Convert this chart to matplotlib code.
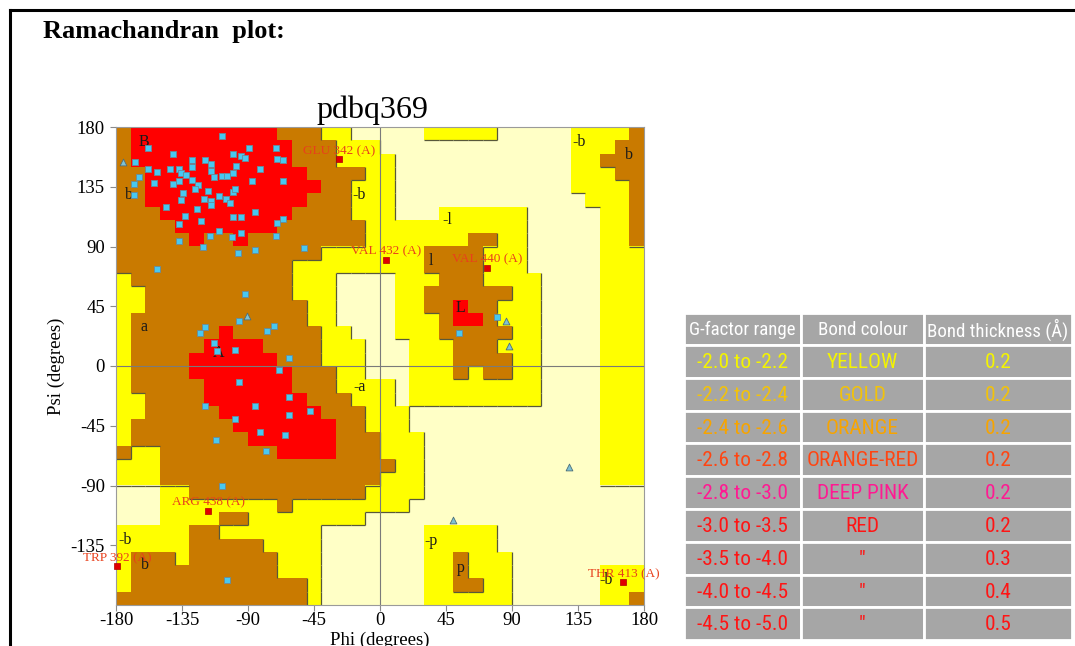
import re

import matplotlib
matplotlib.use("Agg")
import matplotlib.pyplot as plt
import numpy as np
from matplotlib import font_manager
from matplotlib.collections import LineCollection
from matplotlib.colors import ListedColormap
from matplotlib.font_manager import FontProperties
from matplotlib.lines import Line2D
from matplotlib.patches import Rectangle

plt.rcParams['axes.unicode_minus'] = False

# Ramachandran region map, 10 degree cells, run-length coded.
# rows go psi 180 -> -180, columns phi -180 -> 180
# R core, B allowed, Y generous, L disallowed
region_rows = [
    "B1R10B3Y2L5Y5L5Y4B1",
    "B1R11B3Y3L13Y3B2",
    "B1R11B3Y4L12Y2B3",
    "B2R11B4Y2L12Y3B2",
    "B2R12B2Y3L12Y4B1",
    "B2R11B3Y3L13Y3B1",
    "B3R9B4Y3L3Y6L5Y2B1",
    "B4R7B6Y11L5Y2B1",
    "B5R1B2R1B8Y7B2Y2L5Y2B1",
    "B14Y7B4Y3L5Y3",
    "B12Y9B4Y3L5Y3",
    "Y1B11Y3L4Y3B3Y4L4Y3",
    "Y2B10Y3L4Y2B6Y2L4Y3",
    "Y2B11Y2L4Y2B2R1B2Y3L4Y3",
    "Y1B12Y2L4Y3B1R2B1Y3L4Y3",
    "Y1B6R1B6Y2L3Y3B5Y2L4Y3",
    "Y1B5R4B4Y3L3Y3B3Y3L4Y3",
    "Y1B4R6B3Y3L3Y3B4Y2L4Y3",
    "Y1B4R7B3Y2L3Y3B1Y1B2Y2L4Y3",
    "Y1B5R6B3Y4L1Y9L4Y3",
    "Y2B4R7B3Y3L1Y9L4Y3",
    "Y2B5R7B3Y3L13Y3",
    "Y1B7R7B2Y3L13Y3",
    "Y1B8R6B3Y3L12Y3",
    "B1Y2B8R4B3Y3L12Y3",
    "Y3B16Y2L12Y3",
    "Y3B15Y3L12Y3",
    "L3Y2B12Y4L15",
    "L3Y8B1Y8L16",
    "L3Y4B2Y8L19",
    "Y5B2Y7L7Y5L10",
    "Y5B5Y4L7Y5L10",
    "Y1B3Y1B6Y3L7Y2B1Y3L9",
    "Y1B10Y3L7Y2B1Y3L6Y3",
    "Y1B12Y1L7Y2B2Y2L6Y3",
    "B13Y1L7Y6L6Y2B1",
]

# non-glycine residues (squares)
res_phi = [-108, -158, -141, -128, -119, -100, -95, -92, -89, -71, -70, -66,
           -158, -152, -143, -137, -128, -136, -132, -115, -115, -108, -104, -100,
           -98, -82, -154, -141, -137, -128, -124, -113, -66, -134, -126, -117,
           -110, -105, -100, -99, -102, -87, -146, -136, -125, -120, -115, -115,
           -133, -122, -100, -95, -85, -70, -66, -137, -110, -95, -101, -116,
           -121, -137, -97, -85, -71, -52, -152, -92, -96, -123, -119, -77,
           -72, -113, -111, -99, -62, -168, -168, -164, -167,
           -96, -69, -119, -85, -62, -99, -62, -48, -82, -65, -112, -78, -108, -104,
           80, 54]
res_psi = [173, 164, 160, 155, 155, 160, 158, 157, 164, 164, 156, 155,
           148, 146, 148, 148, 150, 145, 144, 152, 147, 143, 143, 145,
           151, 148, 138, 137, 139, 140, 136, 142, 139, 130, 133, 132,
           128, 126, 131, 133, 123, 139, 120, 125, 118, 126, 124, 121,
           113, 109, 112, 112, 116, 108, 111, 107, 102, 100, 97, 98,
           90, 94, 85, 87, 98, 89, 73, 54, 34, 25, 29, 26,
           30, 17, 11, 12, 6, 137, 129, 142, 154,
           -12, -3, -30, -30, -23, -40, -37, -34, -50, -52, -56, -64, -90, -161,
           37, 25]

# glycines (triangles)
gly_phi = [-175, -91, 86, 88, 50, 129]
gly_psi = [154, 38, 34, 15, -116, -76]

# residues in disallowed / generous regions
out_names = ["GLU 342 (A)", "VAL 432 (A)", "VAL 440 (A)", "ARG 438 (A)",
             "TRP 392 (A)", "THR 413 (A)"]
out_phi = [-28, 4, 73, -117, -179, 166]
out_psi = [156, 80, 74, -109, -151, -163]

# region letters
region_labels = ["B", "b", "a", "A", "-b", "-l", "l", "L", "-b", "b",
                 "-a", "-b", "b", "-p", "p", "-b"]
region_label_phi = [-161, -171, -161, -110, -14, 46, 35, 55, 136, 170,
                    -14, -174, -160, 35, 55, 154]
region_label_psi = [169, 129, 29, 10, 129, 110, 79, 44, 169, 159,
                    -16, -131, -150, -132, -152, -161]

# G-factor table
gfactor_ranges = ["-2.0 to -2.2", "-2.2 to -2.4", "-2.4 to -2.6", "-2.6 to -2.8",
                  "-2.8 to -3.0", "-3.0 to -3.5", "-3.5 to -4.0", "-4.0 to -4.5",
                  "-4.5 to -5.0"]
bond_colours = ["YELLOW", "GOLD", "ORANGE", "ORANGE-RED", "DEEP PINK", "RED",
                '"', '"', '"']
bond_thickness = ["0.2", "0.2", "0.2", "0.2", "0.2", "0.2", "0.3", "0.4", "0.5"]
row_text_colours = ["#f4f400", "#f2c20a", "#f7a400", "#ff4512", "#ff1a92",
                    "#ff1515", "#ff1515", "#ff1515", "#ff1515"]


def decode(rle):
    return "".join(ch * int(n) for ch, n in re.findall(r"([RBYL])(\d+)", rle))


def find_narrow_font():
    # look for any condensed / narrow sans face, fall back to DejaVu Sans
    prefs = ["Liberation Sans Narrow", "Roboto Condensed", "Open Sans Condensed",
             "Noto Sans", "DejaVu Sans", "Inter", "Lato"]
    found = []
    for f in font_manager.fontManager.ttflist:
        nm = f.name
        if any(k in nm for k in ("Mono", "Serif", "CJK", "Display")):
            continue
        st = str(f.stretch).lower()
        narrowish = ("narrow" in nm.lower() or "condensed" in nm.lower()
                     or "condensed" in st or "condensed" in f.fname.lower()
                     or "narrow" in f.fname.lower())
        if not narrowish or f.style != "normal":
            continue
        w = f.weight if isinstance(f.weight, int) else 400
        if w > 500 or "bold" in f.fname.lower() or "extra" in f.fname.lower():
            continue
        rank = next((i for i, p in enumerate(prefs) if nm.startswith(p)), len(prefs))
        found.append((rank, f.fname))
    if found:
        found.sort()
        return FontProperties(fname=found[0][1])
    return FontProperties(family="DejaVu Sans")


level_of = {"L": 0, "Y": 1, "B": 2, "R": 3}
grid = np.array([[level_of[c] for c in decode(r)] for r in region_rows])

serif = "Liberation Serif"

W, H = 1075, 646
fig = plt.figure(figsize=(W / 100, H / 100), dpi=100)
renderer = fig.canvas.get_renderer()

# page frame and heading
fig.add_artist(Line2D([10 / W, 1], [1 - 10 / H, 1 - 10 / H], transform=fig.transFigure,
                      color="black", lw=2.2))
fig.add_artist(Line2D([10 / W, 10 / W], [0, 1 - 10 / H], transform=fig.transFigure,
                      color="black", lw=2.2))
fig.text(43 / W, 1 - 38 / H, "Ramachandran  plot:", family=serif, weight="bold",
         fontsize=19, va="baseline", ha="left")

# --- Ramachandran plot ---
ax = fig.add_axes([116 / W, 41 / H, 528 / W, 478 / H])
cmap = ListedColormap(["#ffffc6", "#ffff00", "#c97a00", "#ff0000"])
ax.imshow(grid, cmap=cmap, vmin=-0.5, vmax=3.5, extent=[-180, 180, -180, 180],
          origin="upper", aspect="auto", interpolation="nearest", zorder=0)

# dark shadow lines on right / bottom edges of the better regions
segs = []
n = grid.shape[0]
for r in range(n):
    for c in range(n):
        lv = grid[r, c]
        x0 = -180 + 10 * c
        y0 = 180 - 10 * r
        if c < n - 1 and lv > grid[r, c + 1] and grid[r, c + 1] <= 1:
            segs.append([(x0 + 10, y0), (x0 + 10, y0 - 10)])
        if r < n - 1 and lv > grid[r + 1, c] and grid[r + 1, c] <= 1:
            segs.append([(x0, y0 - 10), (x0 + 10, y0 - 10)])
ax.add_collection(LineCollection(segs, colors="#58583a", linewidths=0.9, zorder=1))

ax.axhline(0, color="#7a7a7a", lw=0.8, zorder=1.5)
ax.axvline(0, color="#7a7a7a", lw=0.8, zorder=1.5)

for txt, x, y in zip(region_labels, region_label_phi, region_label_psi):
    ax.text(x, y, txt, family=serif, fontsize=11.5, ha="center", va="center",
            color="#1a1a1a", zorder=2)

ax.scatter(res_phi, res_psi, marker="s", s=22, facecolor="#48c8f0",
           edgecolor="#6a8a98", linewidths=0.6, zorder=3)
ax.scatter(gly_phi, gly_psi, marker="^", s=24, facecolor="#7fc2d4",
           edgecolor="#4d6e78", linewidths=0.6, zorder=3)
ax.scatter(out_phi, out_psi, marker="s", s=16, facecolor="#e00000",
           edgecolor="#b00000", linewidths=0.5, zorder=3, clip_on=False)
for name, x, y in zip(out_names, out_phi, out_psi):
    ax.annotate(name, (x, y), xytext=(0, 8), textcoords="offset pixels",
                ha="center", va="center", family=serif, fontsize=9.5,
                color="#e8401c", zorder=4, annotation_clip=False)

ax.set_xlim(-180, 180)
ax.set_ylim(-180, 180)
ax.set_xticks([-180, -135, -90, -45, 0, 45, 90, 135, 180])
ax.set_yticks([-135, -90, -45, 0, 45, 90, 135, 180])
ax.tick_params(direction="out", length=4, width=0.8, color="#8a8a8a",
               labelsize=13.5)
ax.tick_params(axis="x", pad=1)
ax.tick_params(axis="y", pad=4)
for lab in ax.get_xticklabels() + ax.get_yticklabels():
    lab.set_family(serif)
for sp in ax.spines.values():
    sp.set_color("#9a9a9a")
    sp.set_linewidth(0.8)

fig.text(372 / W, 1 - 118 / H, "pdbq369", family=serif, fontsize=23,
         ha="center", va="baseline")
fig.text(56 / W, 1 - 366 / H, "Psi (degrees)", family=serif, fontsize=13.5,
         rotation=90, ha="center", va="center")
fig.text(380 / W, 1 / H, "Phi (degrees)", family=serif, fontsize=13.5,
         ha="center", va="baseline")

# --- G-factor table ---
narrow = find_narrow_font()


def fitted(txt, target_px, max_pt):
    fp = narrow.copy()
    fp.set_size(10)
    w, _, _ = renderer.get_text_width_height_descent(txt, fp, ismath=False)
    fp.set_size(min(max_pt, 10 * target_px / w))
    return fp


head_fp = fitted("Bond thickness (Å)", 140, 15.5)
body_fp = fitted("-2.0 to -2.2", 90, 17)

tab = fig.add_axes([684 / W, 1 - 640 / H, 388 / W, 327 / H])
tab.set_xlim(0, 388)
tab.set_ylim(327, 0)
tab.axis("off")
col_edges = [0, 117, 240, 388]
row_edges = [0, 32] + [32 + 32.8 * (i + 1) for i in range(9)]
header = ["G-factor range", "Bond colour", "Bond thickness (Å)"]
body = list(zip(gfactor_ranges, bond_colours, bond_thickness))
for i in range(len(row_edges) - 1):
    y0, y1 = row_edges[i], row_edges[i + 1]
    for j in range(3):
        x0, x1 = col_edges[j], col_edges[j + 1]
        tab.add_patch(Rectangle((x0, y0), x1 - x0, y1 - y0, facecolor="#a6a6a6",
                                edgecolor="white", lw=2))
        if i == 0:
            txt, col, fp = header[j], "white", head_fp
        else:
            txt, col, fp = body[i - 1][j], row_text_colours[i - 1], body_fp
        tab.text((x0 + x1) / 2, (y0 + y1) / 2 + 1, txt, ha="center", va="center",
                 color=col, fontproperties=fp)

fig.savefig("out.png", dpi=100)
